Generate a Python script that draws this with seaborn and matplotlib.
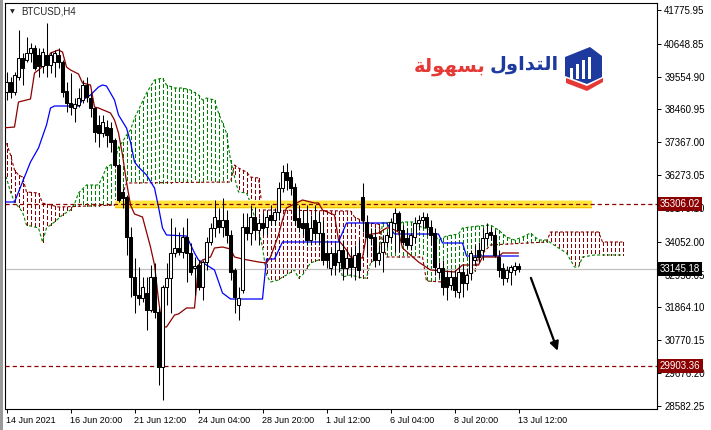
import numpy as np
import matplotlib
matplotlib.use('Agg')
import matplotlib.pyplot as plt
import seaborn as sns
from matplotlib.patches import Polygon, Rectangle
from matplotlib.transforms import blended_transform_factory

# ---- data (BTCUSD H4, bar index 0 = 14 Jun 2021 00:00) ----
opens = [39044, 39377, 39044, 39543, 40176, 40110, 40343, 40510, 40276, 39910,
         40276, 39943, 40043, 40276, 40043, 39077, 38677, 38510, 38610, 38777,
         39277, 38844, 38510, 37944, 37677, 37877, 37844, 37444, 36611, 35711,
         35545, 34212, 32879, 32279, 32180, 32346, 31780, 32879, 31713, 29880,
         32546, 32846, 33679, 33846, 33712, 34212, 33679, 33179, 33279, 32546,
         33379, 34046, 34512, 34779, 34546, 34779, 34279, 33113, 31946, 32446,
         34546, 34345, 34878, 34445, 34679, 34546, 34945, 34779, 35045, 35845,
         36378, 36211, 35878, 34845, 34679, 34679, 34112, 34779, 34345, 34345,
         33679, 33179, 33679, 33379, 33779, 33179, 33513, 33213, 33679, 35545,
         34712, 34279, 34212, 33446, 33712, 34046, 34212, 34679, 35012, 34445,
         34179, 33946, 34212, 34679, 34779, 34878, 34546, 34345, 33046, 33179,
         32879, 32613, 32879, 32380, 33046, 32679, 33013, 33446, 33779, 33779,
         34179, 34379, 34279, 33546, 33179, 32846, 33046, 33113, 33246]
highs = [39710, 39543, 39710, 41109, 40343, 40876, 40676, 40610, 40510, 40510,
         41343, 40376, 40443, 40510, 40110, 39377, 39677, 38844, 39177, 39443,
         39543, 39044, 38544, 38277, 38277, 38111, 38044, 37511, 36678, 35845,
         35612, 34546, 33513, 33213, 32879, 32879, 33279, 33346, 31847, 32613,
         33346, 34845, 34546, 34379, 34546, 34845, 34012, 33546, 33446, 33446,
         34212, 34679, 35445, 35179, 35512, 35112, 34445, 33179, 32546, 35012,
         35012, 35278, 35212, 34845, 35012, 35112, 35278, 35179, 36045, 36611,
         36678, 36445, 36011, 35278, 35112, 35278, 34945, 35278, 35045, 34779,
         34112, 33846, 34012, 34112, 34112, 33779, 33846, 33946, 34112, 36011,
         34945, 34512, 34512, 33946, 34279, 34379, 34845, 35179, 35078, 34612,
         34512, 34379, 34878, 34945, 35045, 35012, 34779, 34512, 33379, 33446,
         33113, 33113, 33113, 33279, 33279, 33179, 33779, 33946, 34046, 34512,
         34679, 34546, 34445, 33779, 33346, 33246, 33279, 33379, 33346]
lows = [38777, 38844, 38944, 39443, 39277, 40043, 40043, 39777, 39543, 39677,
        39543, 39677, 39543, 39843, 38877, 38377, 38277, 38044, 38544, 38677,
        38710, 38211, 37378, 37211, 37544, 37211, 37044, 36545, 35378, 35179,
        33613, 32213, 31680, 31946, 32046, 31113, 31713, 31513, 29281, 28781,
        31946, 31680, 33546, 33613, 33513, 32713, 32946, 32279, 32446, 32113,
        33113, 33946, 34212, 34345, 34212, 34012, 32779, 31680, 31447, 32346,
        34112, 33946, 34112, 33946, 34279, 34279, 34612, 34612, 34779, 35711,
        35778, 35612, 34612, 34379, 34279, 33946, 33946, 34112, 33946, 33279,
        33179, 32946, 32946, 33046, 32779, 32946, 32879, 32779, 32846, 34379,
        33546, 33946, 33213, 33279, 33046, 33879, 34046, 33712, 33712, 33946,
        33846, 33779, 34012, 34445, 34512, 34279, 33946, 32946, 32846, 32279,
        32113, 32446, 32213, 32180, 32213, 32446, 32779, 33279, 33379, 33446,
        33946, 34112, 33546, 32879, 32613, 32713, 32613, 32946, 33046]
closes = [39377, 39044, 39610, 40176, 39843, 40343, 40510, 39843, 39910, 40376,
          39943, 40276, 40343, 40043, 39044, 38677, 38544, 38644, 38844, 39277,
          38877, 38510, 37711, 37677, 38044, 37611, 37378, 36611, 35445, 35512,
          34212, 32879, 32279, 32180, 32546, 31780, 32879, 31713, 29880, 32546,
          32846, 33679, 33846, 33712, 34212, 33679, 33046, 33246, 32546, 33379,
          34046, 34512, 34878, 34546, 34779, 34279, 33046, 32213, 32180, 34546,
          34345, 34878, 34445, 34679, 34512, 34878, 34779, 35045, 35845, 36378,
          36111, 35845, 34779, 34546, 34512, 34112, 34512, 34345, 34712, 33446,
          33446, 33679, 33279, 33779, 33179, 33513, 33213, 33613, 33113, 34779,
          34212, 34179, 33446, 33679, 34046, 34279, 34712, 35012, 34445, 34046,
          33946, 34279, 34679, 34779, 34878, 34546, 34279, 33213, 33179, 32546,
          32546, 32879, 32446, 33046, 32679, 32946, 33679, 33546, 33546, 34179,
          34345, 34279, 33613, 33113, 32846, 33113, 33213, 33246, 33145.18]

# Ichimoku lines, vertices (bar index, price)
tenkan_i = [-1, 2, 3, 6, 7, 8, 10, 11, 13, 14, 15, 16, 18, 19, 21, 22, 23, 26, 27, 28,
            29, 30, 31, 32, 34, 36, 37, 38, 39, 40, 42, 43, 45, 47, 48, 49, 51, 52, 54, 56,
            57, 59, 63, 65, 66, 68, 69, 70, 73, 74, 77, 78, 79, 82, 83, 85, 86, 89, 90, 93,
            95, 96, 98, 99, 103, 106, 112, 114, 118, 119, 123, 124, 128]
tenkan_p = [37844, 37877, 38710, 38810, 39677, 39777, 40010, 40343, 40443, 40376,
            39876, 39777, 39643, 39343, 39277, 38544, 38510, 38344, 38111, 37677,
            36944, 36045, 35278, 34979, 34878, 33879, 33279, 32113, 31213, 31213,
            31613, 31647, 31847, 31847, 33279, 33446, 33546, 33846, 33879, 33812,
            33546, 33479, 33379, 33346, 33546, 34279, 34779, 35179, 35378, 35445,
            35345, 35345, 35112, 34945, 34112, 33779, 33546, 33513, 34279, 34345,
            34512, 34512, 34379, 33846, 33379, 33113, 33046, 33279, 33279, 33546,
            33546, 33679, 33679]
kijun_i = [-1, 2, 4, 6, 8, 10, 11, 12, 18, 19, 21, 23, 24, 25, 27, 28, 30, 31, 32, 33,
           35, 37, 38, 39, 40, 45, 47, 48, 52, 54, 56, 64, 65, 67, 69, 83, 85, 95, 97, 108,
           109, 114, 115, 128]
kijun_p = [35378, 35378, 36045, 36711, 37178, 37944, 38510, 38577, 38577, 38777,
           38944, 39210, 39277, 39243, 38777, 38277, 37844, 37378, 36711, 36545,
           36278, 35845, 35212, 34512, 34279, 34245, 33679, 33446, 33113, 32346,
           32146, 32146, 33479, 33479, 34046, 34046, 34679, 34679, 34312, 34312,
           34012, 34012, 33579, 33579]
span_a_i = [-1, 0, 1, 2, 3, 4, 5, 8, 9, 10, 12, 14, 16, 17, 18, 20, 23, 24, 25, 27,
            28, 29, 30, 31, 32, 33, 35, 37, 39, 40, 42, 44, 46, 48, 49, 50, 52, 53, 54, 55,
            56, 57, 58, 60, 61, 62, 63, 64, 65, 66, 68, 69, 70, 72, 73, 74, 76, 78, 83, 84,
            86, 89, 90, 91, 93, 94, 97, 98, 99, 102, 103, 106, 108, 110, 113, 114, 118, 121,
            123, 125, 127, 129, 131, 133, 135, 138, 140, 142, 143, 144, 147, 154]
span_a_p = [36378, 36178, 35711, 35378, 35212, 35045, 34612, 34512, 34046, 34512,
            34712, 34945, 35112, 35312, 35678, 35945, 35945, 36211, 36545, 36678,
            37211, 37378, 37611, 37777, 38177, 38444, 39010, 39443, 39510, 39277,
            39177, 39177, 39110, 38944, 38777, 38844, 38777, 38344, 38011, 37677,
            36777, 36211, 35711, 35678, 35345, 34878, 34445, 33879, 32946, 32713,
            32779, 32879, 32946, 33113, 32846, 32946, 33346, 33446, 33446, 32879,
            32946, 32846, 32846, 33346, 33546, 34679, 34712, 34612, 34712, 34712,
            34579, 34445, 34112, 34245, 34312, 34512, 34579, 34612, 34445, 34212,
            34112, 34212, 34345, 34112, 34112, 33846, 33679, 33213, 33213, 33546,
            33613, 33613]
span_b_i = [-1, 0, 1, 2, 3, 4, 5, 8, 9, 13, 28, 30, 56, 57, 58, 60, 61, 63, 64, 86,
            87, 90, 93, 95, 104, 105, 113, 115, 117, 118, 121, 135, 136, 148, 149, 154]
span_b_p = [37444, 37344, 36944, 36445, 36278, 36211, 35711, 35678, 35345, 35212,
            35278, 36011, 36045, 36611, 36511, 36378, 36211, 36178, 35112, 35078,
            34878, 34679, 34646, 33546, 33546, 32746, 32679, 32946, 33046, 33513,
            33946, 34046, 34379, 34379, 34046, 34046]

level_hi = 35306.02
level_lo = 29903.36
bid = 33145.18

y_ticks = [41775.95, 40648.85, 39554.90, 38460.95, 37367.00, 36273.05, 35179.10,
           34052.00, 32958.05, 31864.10, 30770.15, 29676.20, 28582.25]
x_tick_bars = [0, 16, 32, 48, 64, 80, 96, 112, 128]
x_tick_labels = ['14 Jun 2021', '16 Jun 20:00', '21 Jun 12:00', '24 Jun 04:00',
                 '28 Jun 20:00', '1 Jul 12:00', '6 Jul 04:00', '8 Jul 20:00', '13 Jul 12:00']

GREEN = '#008000'
MAROON = '#8B0000'
BLUE = '#0000FF'
DOT = (0, (2.2, 1.5))

sns.set_style('white')
plt.rcParams['font.family'] = ['Liberation Sans', 'DejaVu Sans']
plt.rcParams['lines.scale_dashes'] = False

W, H = 711, 430
fig = plt.figure(figsize=(W / 100, H / 100), dpi=100)
ax = fig.add_axes([5 / W, 1 - 409.3 / H, 652.3 / W, 406 / H])

# cloud: dotted vertical hatch at each bar between the two spans
grid = np.arange(-1, 155)
sa = np.interp(grid, span_a_i, span_a_p)
sb = np.interp(grid, span_b_i, span_b_p)
bull = sa >= sb


def hatch_xy(mask):
    xs, ys = [], []
    for g, lo, hi in zip(grid[mask], np.minimum(sa, sb)[mask], np.maximum(sa, sb)[mask]):
        xs += [g, g, np.nan]
        ys += [hi, lo, np.nan]
    return xs, ys


for mask, col in [(bull, GREEN), (~bull, MAROON)]:
    hx, hy = hatch_xy(mask)
    ax.plot(hx, hy, color=col, lw=0.9, linestyle=DOT, zorder=1, antialiased=False)

sns.lineplot(x=span_a_i, y=span_a_p, color=GREEN, lw=0.8, linestyle=DOT,
             estimator=None, sort=False, ax=ax, zorder=1.2)
sns.lineplot(x=span_b_i, y=span_b_p, color=MAROON, lw=0.8, linestyle=DOT,
             estimator=None, sort=False, ax=ax, zorder=1.2)

# current bid line
ax.axhline(bid, color='#C0C0C0', lw=0.9, zorder=1.5)

# highlighted resistance band
bx0, bx1 = 27.1, 146.3
for half, col in [(150, '#FFF3A8'), (120, '#F2C200'), (95, '#FFE43C')]:
    ax.add_patch(Rectangle((bx0, level_hi - half), bx1 - bx0, 2 * half,
                           facecolor=col, edgecolor='none', zorder=2))

# tenkan / kijun
sns.lineplot(x=kijun_i, y=kijun_p, color=BLUE, lw=0.9, estimator=None, sort=False, ax=ax, zorder=3)
sns.lineplot(x=tenkan_i, y=tenkan_p, color=MAROON, lw=0.9, estimator=None, sort=False, ax=ax, zorder=3)

# level lines
ax.axhline(level_hi, color=MAROON, lw=0.9, linestyle=(0, (3, 2.2)), zorder=3.5)
ax.axhline(level_lo, color=MAROON, lw=0.9, linestyle=(0, (3, 2.2)), zorder=3.5)

# candles
o = np.array(opens); h = np.array(highs); l = np.array(lows); c = np.array(closes)
xb = np.arange(len(o))
up = c >= o
ax.vlines(xb, l, h, colors='black', lw=0.75, zorder=4)
ax.bar(xb[up], (c - o)[up], bottom=o[up], width=0.55, color='white',
       edgecolor='black', linewidth=0.75, zorder=5)
ax.bar(xb[~up], (o - c)[~up], bottom=c[~up], width=0.55, color='black',
       edgecolor='black', linewidth=0.75, zorder=5)

# arrow
ax.annotate('', xy=(137.8, 30420), xytext=(131.1, 32850),
            arrowprops=dict(arrowstyle='-|>', color='black', lw=1.6, mutation_scale=13,
                            shrinkA=0, shrinkB=0), zorder=6)

ax.set_xlim(-0.375, 162.7)
ax.set_ylim(28471, 41999)
ax.set_xlabel('')
ax.set_ylabel('')

ax.yaxis.tick_right()
ax.set_yticks(y_ticks)
ax.set_yticklabels(['%.2f' % v for v in y_ticks])
ax.set_xticks(x_tick_bars)
ax.set_xticklabels(x_tick_labels, ha='left')
ax.tick_params(axis='y', direction='out', length=3, width=0.7, pad=2, labelsize=7,
               colors='black', right=True, left=False)
ax.tick_params(axis='x', direction='out', length=3, width=0.7, pad=1.5, labelsize=6.5,
               colors='black', bottom=True)
for sp in ax.spines.values():
    sp.set_color('black')
    sp.set_linewidth(0.8)

# price tags on the right scale
tr = blended_transform_factory(ax.transAxes, ax.transData)
for val, bg in [(level_hi, MAROON), (bid, 'black'), (level_lo, MAROON)]:
    ax.text(1.004, val, '%.2f' % val, transform=tr, ha='left', va='center', fontsize=7,
            color='white', clip_on=False, zorder=10,
            bbox=dict(boxstyle='square,pad=0.22', fc=bg, ec='none'))

# symbol title
fig.text(12.5 / W, 1 - 11.5 / H, '\u25BC', fontsize=4.5, ha='center', va='center',
         family='DejaVu Sans')
fig.text(21 / W, 1 - 11.5 / H, 'BTCUSD,H4', fontsize=7, ha='left', va='center')

# logo (Arabic written in presentation forms, visual order)
fig.text(524 / W, 1 - 65 / H, '\uFEDD\uFEED\uFE8D\uFEAA\uFE98\uFEDF\uFE8D', fontsize=14,
         weight='bold', color='#1E3A9E', ha='center', va='center', family='DejaVu Sans')
fig.text(450 / W, 1 - 66 / H, '\uFE94\uFEDF\uFEEE\uFEEC\uFEB4\uFE91', fontsize=14,
         weight='bold', color='#E53935', ha='center', va='center', family='DejaVu Sans')


def px(pts):
    return [(xx / W, 1 - yy / H) for xx, yy in pts]


fig.patches.append(Polygon(px([(565, 57), (590, 47), (602, 56), (602, 77), (587, 84), (565, 76)]),
                           closed=True, fc='#1E3A9E', ec='none', transform=fig.transFigure))
fig.patches.append(Polygon(px([(566, 78), (587, 86), (603, 78), (603, 82), (587, 91), (566, 83)]),
                           closed=True, fc='#E53935', ec='none', transform=fig.transFigure))
for bx, top in [(570, 68), (576, 64), (582, 60), (588, 57)]:
    fig.patches.append(Rectangle((bx / W, 1 - 79 / H), 3.2 / W, (79 - top) / H,
                                 fc='white', ec='none', transform=fig.transFigure))

# window edge strip
fig.patches.append(Rectangle((0, 0), 2.5 / W, 1, fc='#9A9A9A', ec='none',
                             transform=fig.transFigure))

fig.savefig('out.png', dpi=100)
